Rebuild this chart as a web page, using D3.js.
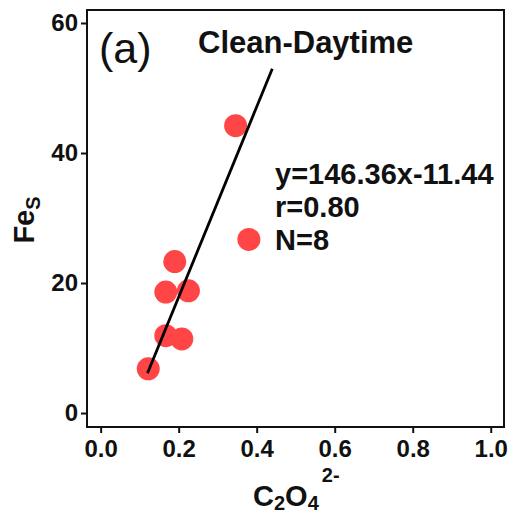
<!DOCTYPE html>
<html>
<head>
<meta charset="utf-8">
<script src="https://cdn.jsdelivr.net/npm/d3@7"></script>
<style>
  html, body { margin: 0; padding: 0; background: #fff; }
  svg text { font-family: "Liberation Sans", Arial, sans-serif; fill: #111; }
</style>
</head>
<body>
<div id="vis"></div>
<script>
// data
var oxalate = [0.122, 0.167, 0.167, 0.190, 0.208, 0.225, 0.346, 0.380];
var feS     = [6.8, 11.9, 18.6, 23.3, 11.4, 18.8, 44.2, 26.7];
var xTicks = [0.0, 0.2, 0.4, 0.6, 0.8, 1.0];
var yTicks = [0, 20, 40, 60];
var fitSlope = 146.36, fitIntercept = -11.44;
var fitRange = [0.12, 0.44];
var statLines = ["y=146.36x-11.44", "r=0.80", "N=8"];

var width = 510, height = 514;
var margin = { top: 10, right: 6, bottom: 87, left: 87 };

var svg = d3.select('#vis').append('svg')
    .attr('width', width)
    .attr('height', height);

var x = d3.scaleLinear()
    .domain([-0.035, 1.034])
    .range([margin.left, width - margin.right]);

var y = d3.scaleLinear()
    .domain([-2.15, 62])
    .range([height - margin.bottom, margin.top]);

// frame
svg.append('rect')
    .attr('x', margin.left)
    .attr('y', margin.top)
    .attr('width', width - margin.right - margin.left)
    .attr('height', height - margin.bottom - margin.top)
    .attr('fill', 'none')
    .attr('stroke', '#111')
    .attr('stroke-width', 2);

var xAxis = svg.append('g')
    .attr('transform', 'translate(0,' + (height - margin.bottom) + ')')
    .call(d3.axisBottom(x).tickValues(xTicks).tickFormat(d3.format('.1f')).tickSize(6).tickPadding(7));

var yAxis = svg.append('g')
    .attr('transform', 'translate(' + margin.left + ',0)')
    .call(d3.axisLeft(y).tickValues(yTicks).tickSize(6).tickPadding(3));

[xAxis, yAxis].forEach(function (g) {
    g.select('.domain').remove();
    g.selectAll('.tick line').attr('stroke', '#111').attr('stroke-width', 2);
    g.selectAll('.tick text')
        .attr('font-size', 24)
        .attr('font-weight', 'bold')
        .attr('fill', '#111')
        .style('font-family', '"Liberation Sans", Arial, sans-serif');
});

// points
svg.append('g')
    .selectAll('circle')
    .data(oxalate)
    .enter()
    .append('circle')
    .attr('cx', function (d) { return x(d); })
    .attr('cy', function (d, i) { return y(feS[i]); })
    .attr('r', 11.5)
    .attr('fill', '#ff4545');

// fit line
svg.append('line')
    .attr('x1', x(fitRange[0]))
    .attr('y1', y(fitSlope * fitRange[0] + fitIntercept))
    .attr('x2', x(fitRange[1]))
    .attr('y2', y(fitSlope * fitRange[1] + fitIntercept))
    .attr('stroke', '#000')
    .attr('stroke-width', 2.8);

// labels
svg.append('text')
    .attr('x', 99)
    .attr('y', 63)
    .attr('font-size', 43)
    .text('(a)');

svg.append('text')
    .attr('x', 198)
    .attr('y', 53)
    .attr('font-size', 31)
    .attr('font-weight', 'bold')
    .text('Clean-Daytime');

svg.append('g')
    .selectAll('text')
    .data(statLines)
    .enter()
    .append('text')
    .attr('x', 275)
    .attr('y', function (d, i) { return 184 + i * 33; })
    .attr('font-size', 29)
    .attr('font-weight', 'bold')
    .text(function (d) { return d; });

// x label: C2O4 2-
var xl = svg.append('text')
    .attr('x', 253)
    .attr('y', 506)
    .attr('font-size', 29)
    .attr('font-weight', 'bold');
xl.append('tspan').text('C');
xl.append('tspan').attr('dy', 4).attr('font-size', 20).text('2');
xl.append('tspan').attr('dy', -4).text('O');
xl.append('tspan').attr('dy', 4).attr('font-size', 20).text('4');
xl.append('tspan').attr('dy', -28).attr('dx', 3).attr('font-size', 20).text('2-');

// y label: FeS
var yl = svg.append('text')
    .attr('transform', 'translate(34,' + 220 + ') rotate(-90)')
    .attr('text-anchor', 'middle')
    .attr('font-size', 29)
    .attr('font-weight', 'bold');
yl.append('tspan').text('Fe');
yl.append('tspan').attr('dy', 6).attr('font-size', 20).text('S');
</script>
</body>
</html>
